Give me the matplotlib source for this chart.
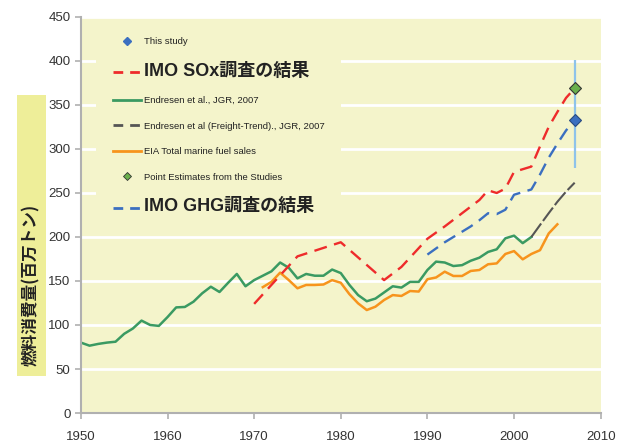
import matplotlib
matplotlib.use("Agg")
import matplotlib.pyplot as plt
from matplotlib.lines import Line2D
from matplotlib.patches import Rectangle
from matplotlib.font_manager import FontProperties

# ---- data ----
endresen_years = list(range(1950, 2003))
endresen_fuel = [80, 76.5, 78.5, 80, 81, 90, 96, 105, 100, 99,
                 109, 120, 120.5, 126.5, 136, 143.5, 137.5, 148, 158, 144,
                 151, 156, 161, 171, 165, 153, 158, 156, 156, 163,
                 159, 145.5, 134, 127, 130, 137, 144, 142.5, 149, 149,
                 162.5, 172, 171, 167, 168, 173, 176.5, 183, 186, 198.5,
                 201.5, 193, 200]

trend_years = [2002, 2003, 2004, 2005, 2006, 2007]
trend_fuel = [200, 213.6, 227, 240, 251.5, 261.7]

eia_years = list(range(1971, 2006))
eia_fuel = [143, 149, 159.5, 151, 141.7, 145.5, 145.5, 146, 151, 148,
            135, 124.6, 117, 120.8, 128.4, 134, 133, 138.6, 138, 152,
            154, 160.6, 155.7, 155.7, 161.4, 162.5, 169, 170, 180.7, 184,
            174.6, 180.7, 185, 204, 214.4]

sox_years = [1970, 1975, 1980, 1985, 1987, 1990, 1992, 1996, 1997, 1998,
             1999, 2000, 2002, 2003, 2004, 2005, 2006, 2007]
sox_fuel = [124, 178, 194, 151, 166, 198, 212, 242, 253, 250,
            255, 274, 280, 303, 325, 342, 358, 369]

ghg_years = list(range(1990, 2008))
ghg_fuel = [180, 187, 194, 200, 206, 212, 219, 227, 226, 231,
            248, 251, 254, 271, 290, 306, 321, 333]

study_year, study_fuel = 2007, 333
study_low, study_high = 278, 401
point_year, point_fuel = 2007, 369

BG = "#f4f4cb"
GREEN = "#3a9a62"
ORANGE = "#f7941d"
RED = "#ee2b2b"
BLUE = "#3b6fc0"
GRAY = "#555555"

fig = plt.figure(figsize=(6.27, 4.43), dpi=100)
ax = fig.add_axes([0.129, 0.0677, 0.829, 0.894])
ax.set_facecolor(BG)

ax.set_yticks(range(0, 451, 50))
ax.grid(axis="y", color="white", lw=2)
ax.set_axisbelow(True)

dash = (5.5, 3.2)
ax.plot(endresen_years, endresen_fuel, color=GREEN, lw=1.8, solid_joinstyle="round")
ax.plot(trend_years, trend_fuel, color=GRAY, lw=1.5, dashes=(8, 1.5))
ax.plot(eia_years, eia_fuel, color=ORANGE, lw=1.8, solid_joinstyle="round")
ax.plot(sox_years, sox_fuel, color=RED, lw=1.7, dashes=dash)
ax.plot(ghg_years, ghg_fuel, color=BLUE, lw=1.7, dashes=dash)
ax.vlines(study_year, study_low, study_high, color="#8ec3ea", lw=1.6, zorder=3)
ax.plot([point_year], [point_fuel], marker="D", ms=6.5, color="#6ab04c",
        mec="#333333", mew=0.8, zorder=4)
ax.plot([study_year], [study_fuel], marker="D", ms=6, color=BLUE,
        mec="#2a4a80", mew=0.8, zorder=4)

ax.set_xlim(1950, 2010)
ax.set_ylim(0, 450)
ax.set_xticks(range(1950, 2011, 10))
for s in ["top", "right"]:
    ax.spines[s].set_visible(False)
for s in ["left", "bottom"]:
    ax.spines[s].set_color("#b0b0b0")
    ax.spines[s].set_linewidth(1.5)
ax.tick_params(colors="#b0b0b0", labelcolor="#333333", width=1.2, length=4)
for lab in ax.get_xticklabels() + ax.get_yticklabels():
    lab.set_fontfamily("Liberation Sans")
    lab.set_fontsize(9.5)
ax.tick_params(axis="x", pad=9)

# legend
handles = [
    Line2D([], [], ls="none", marker="D", ms=4.5, color=BLUE),
    Line2D([], [], color=RED, lw=2, dashes=(3.5, 2.5)),
    Line2D([], [], color=GREEN, lw=2),
    Line2D([], [], color=GRAY, lw=2, dashes=(3.5, 2.5)),
    Line2D([], [], color=ORANGE, lw=2),
    Line2D([], [], ls="none", marker="D", ms=4.5, color="#6ab04c", mec="#333333", mew=0.6),
    Line2D([], [], color=BLUE, lw=2, dashes=(3.5, 2.5)),
]
labels = ["This study", "IMO SOx調査の結果", "Endresen et al., JGR, 2007",
          "Endresen et al (Freight-Trend)., JGR, 2007", "EIA Total marine fuel sales",
          "Point Estimates from the Studies", "IMO GHG調査の結果"]
small = FontProperties(family=["Liberation Sans", "DejaVu Sans"], size=6.8)
big = FontProperties(family=["Liberation Sans", "Noto Sans CJK JP"], size=13, weight="bold")
leg = ax.legend(handles, labels, loc="upper left", bbox_to_anchor=(0.03, 0.99),
                prop=small, frameon=True, facecolor=BG, edgecolor="none",
                framealpha=1, fancybox=False, handlelength=3.0, handletextpad=0.3,
                labelspacing=1.75, borderpad=1.7, borderaxespad=0)
for t, lab in zip(leg.get_texts(), labels):
    t.set_color("#222222")
    if "IMO" in lab:
        t.set_fontproperties(big)

# y label with yellow box
fig.patches.append(Rectangle((0.027, 0.151), 0.046, 0.634, transform=fig.transFigure,
                             facecolor="#eeee99", edgecolor="none"))
fig.text(0.0494, 0.357, "燃料消費量(百万トン)", rotation=90, ha="center", va="center",
         fontsize=12, fontweight="bold", family=["Noto Sans CJK JP", "DejaVu Sans"],
         color="#222222")

fig.savefig("out.png", dpi=100)
